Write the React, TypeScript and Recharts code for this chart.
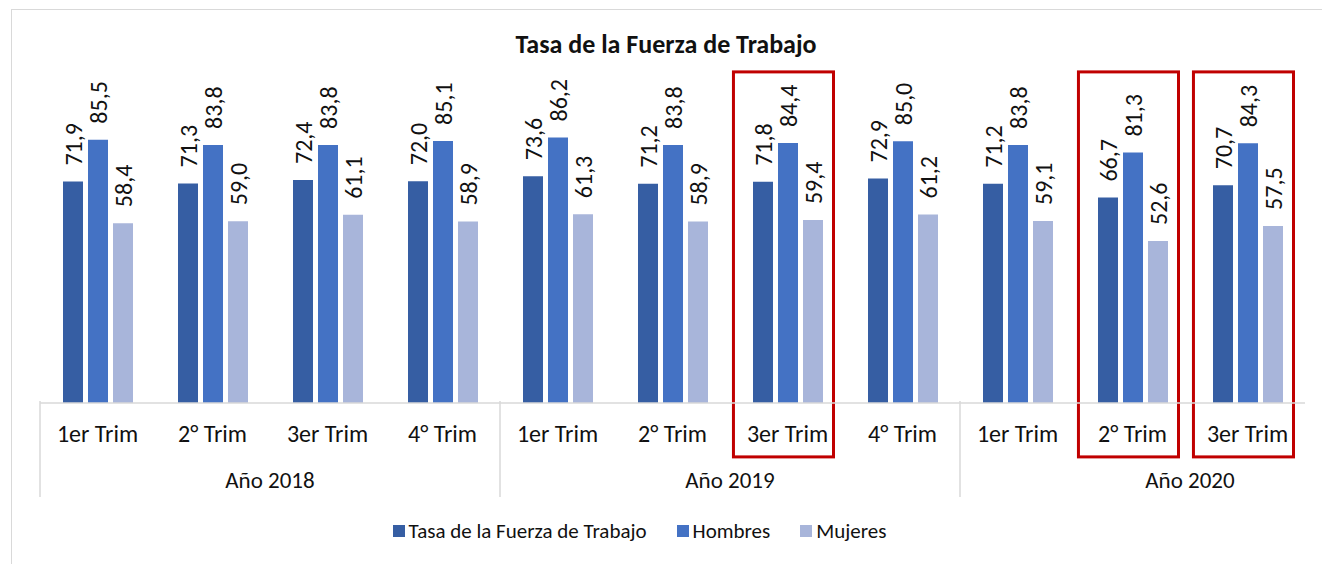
import React from "react";
import {
  BarChart, Bar, XAxis, YAxis, LabelList, Legend, ReferenceArea, Customized,
} from "recharts";

const keys = ["2018-1", "2018-2", "2018-3", "2018-4", "2019-1", "2019-2", "2019-3", "2019-4", "2020-1", "2020-2", "2020-3"];
const trims = ["1er Trim", "2° Trim", "3er Trim", "4° Trim", "1er Trim", "2° Trim", "3er Trim", "4° Trim", "1er Trim", "2° Trim", "3er Trim"];
const years = ["Año 2018", "Año 2018", "Año 2018", "Año 2018", "Año 2019", "Año 2019", "Año 2019", "Año 2019", "Año 2020", "Año 2020", "Año 2020"];
const tasa = [71.9, 71.3, 72.4, 72.0, 73.6, 71.2, 71.8, 72.9, 71.2, 66.7, 70.7];
const hombres = [85.5, 83.8, 83.8, 85.1, 86.2, 83.8, 84.4, 85.0, 83.8, 81.3, 84.3];
const mujeres = [58.4, 59.0, 61.1, 58.9, 61.3, 58.9, 59.4, 61.2, 59.1, 52.6, 57.5];
const highlighted = ["2019-3", "2020-2", "2020-3"];

const SERIES = [
  { key: "tasa", name: "Tasa de la Fuerza de Trabajo", color: "#365EA3" },
  { key: "hombres", name: "Hombres", color: "#4472C4" },
  { key: "mujeres", name: "Mujeres", color: "#A8B5DA" },
];

const FONT = "Carlito, Calibri, Lato, sans-serif";
const TEXT = "#111";
const AXIS = "#D9D9D9";

const data = keys.map((k, i) => ({
  key: k, trim: trims[i], year: years[i],
  tasa: tasa[i], hombres: hombres[i], mujeres: mujeres[i],
}));

const fmt = (v: number) => v.toFixed(1).replace(".", ",");

function ValueLabel(props: any) {
  const { x, y, width, value } = props;
  const cx = x + width / 2;
  const cy = y - 16;
  return (
    <text transform={`translate(${cx}, ${cy}) rotate(-90)`} textAnchor="start"
          dominantBaseline="central" fontSize={24} fill={TEXT} fontFamily={FONT}>
      {fmt(value)}
    </text>
  );
}

// first level: quarter names + group separators
function TrimTick(props: any) {
  const { x, y, payload, index } = props;
  const half = payload.offset || 57.5;
  const startOfGroup = index === 0 || years[index] !== years[index - 1];
  return (
    <g>
      {startOfGroup && (
        <line x1={x - half} x2={x - half} y1={y - 10} y2={y + 86} stroke={AXIS} strokeWidth={1.5} />
      )}
      <text x={x} y={y + 31} textAnchor="middle" fontSize={24} fill={TEXT} fontFamily={FONT}>
        {trims[index]}
      </text>
    </g>
  );
}

// second level: year label, centred between the 2nd and 3rd quarter
function YearTick(props: any) {
  const { x, y, payload, index } = props;
  const half = payload.offset || 57.5;
  const firstIdx = years.indexOf(years[index]);
  if (index !== firstIdx + 1) return <g />;
  return (
    <text x={x + half} y={y + 30} textAnchor="middle" fontSize={23} fill={TEXT} fontFamily={FONT}>
      {years[index]}
    </text>
  );
}

function HighlightBox(props: any) {
  const { x, y, width, height } = props;
  const left = width * 0.03;
  const right = width * 0.1;
  return (
    <rect x={x + left} y={y} width={width - left - right} height={height}
          fill="none" stroke="#C00000" strokeWidth={3} />
  );
}

function LegendContent() {
  return (
    <div style={{ display: "flex", justifyContent: "center", alignItems: "center", height: 23,
                  fontFamily: FONT, fontSize: 21, color: TEXT, paddingRight: 66 }}>
      {SERIES.map((s) => (
        <div key={s.key} style={{ display: "flex", alignItems: "center", margin: "0 15px" }}>
          <span style={{ width: 12, height: 12, background: s.color, marginRight: 4, display: "inline-block" }} />
          <span>{s.name}</span>
        </div>
      ))}
    </div>
  );
}

function Title({ width }: any) {
  return (
    <text x={width / 2 + 5} y={53} textAnchor="middle" fontSize={26} fontWeight="bold"
          fill={TEXT} fontFamily={FONT}>
      Tasa de la Fuerza de Trabajo
    </text>
  );
}

export default function App() {
  return (
    <div style={{ position: "absolute", left: 0, top: 0, width: 1322, height: 564, background: "#fff", overflow: "hidden" }}>
      <div style={{ position: "absolute", left: 11, top: 9, width: 1330, height: 600, border: `1.5px solid ${AXIS}` }} />
      <div style={{ position: "absolute", left: 0, top: 0 }}>
        <BarChart width={1322} height={564} data={data} barSize={20} barGap={5}
                  margin={{ top: 95, right: 17, left: 40, bottom: 44 }}>
          <YAxis hide domain={[0, 100]} />
          <XAxis xAxisId="trim" dataKey="key" tick={<TrimTick />} tickLine={false}
                 axisLine={{ stroke: AXIS, strokeWidth: 1.5 }} height={47} interval={0} />
          <XAxis xAxisId="year" dataKey="key" tick={<YearTick />} tickLine={false}
                 axisLine={false} height={47} interval={0} />
          {SERIES.map((s) => (
            <Bar key={s.key} xAxisId="trim" dataKey={s.key} name={s.name} fill={s.color}
                 isAnimationActive={false}>
              <LabelList dataKey={s.key} content={<ValueLabel />} />
            </Bar>
          ))}
          {highlighted.map((k) => (
            <ReferenceArea key={k} xAxisId="trim" x1={k} x2={k} y1={-17.5} y2={107.5}
                           ifOverflow="visible" shape={<HighlightBox />} />
          ))}
          <Legend verticalAlign="bottom" content={<LegendContent />} wrapperStyle={{ bottom: 22 }} />
          <Customized component={<Title width={1322} />} />
        </BarChart>
      </div>
    </div>
  );
}
